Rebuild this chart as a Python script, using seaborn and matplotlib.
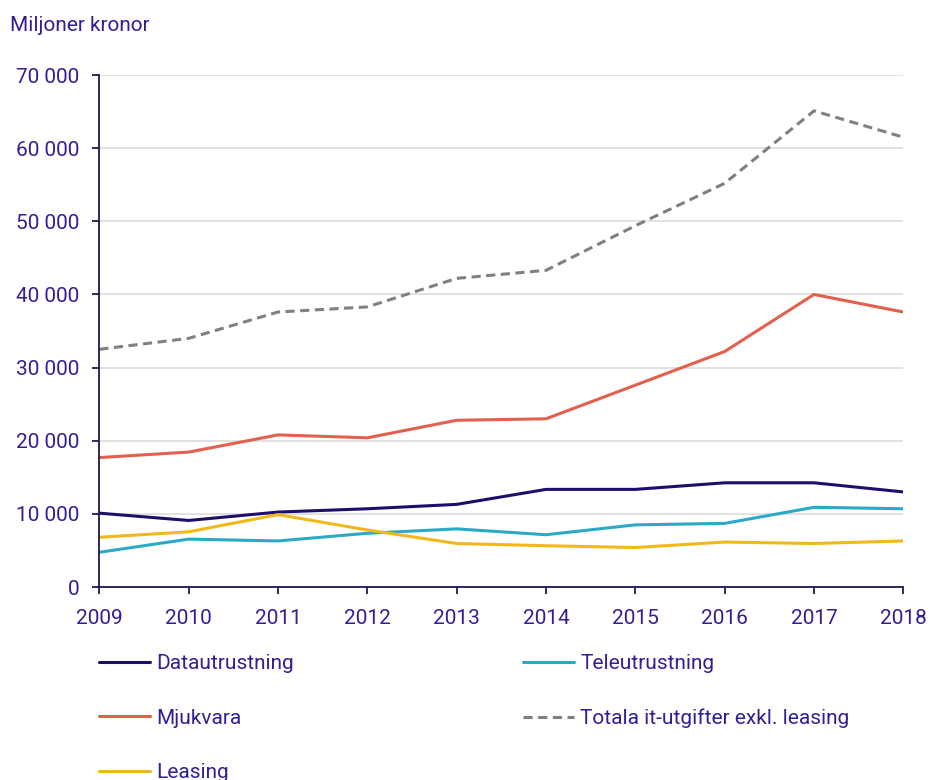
import matplotlib
matplotlib.use("Agg")
import matplotlib.pyplot as plt
import matplotlib.ticker as mticker
from matplotlib.lines import Line2D
import pandas as pd
import seaborn as sns

years = [2009, 2010, 2011, 2012, 2013, 2014, 2015, 2016, 2017, 2018]
datautrustning = [10100, 9100, 10250, 10700, 11300, 13350, 13350, 14250, 14250, 13000]
teleutrustning = [4750, 6550, 6300, 7350, 7950, 7150, 8500, 8700, 10900, 10700]
mjukvara = [17700, 18450, 20800, 20400, 22800, 23000, 27600, 32200, 40000, 37600]
totala = [32500, 34000, 37600, 38300, 42200, 43300, 49400, 55200, 65100, 61500]
leasing = [6800, 7550, 9900, 7800, 5950, 5650, 5400, 6150, 5950, 6300]

labels = ["Datautrustning", "Teleutrustning", "Mjukvara",
          "Totala it-utgifter exkl. leasing", "Leasing"]
series = [datautrustning, teleutrustning, mjukvara, totala, leasing]
colors = ["#1c0f6b", "#2aaac8", "#e2604c", "#808080", "#f0b81a"]
dashes = ["-", "-", "-", (0, (3.0, 1.8)), "-"]

text_col = "#2e2196"
axis_col = "#1c1852"

df = pd.DataFrame({"År": years * len(series),
                   "Värde": [v for s in series for v in s],
                   "Serie": [lab for lab, s in zip(labels, series) for _ in s]})

sns.set_theme(style="white")
plt.rcParams["font.family"] = ["Roboto", "DejaVu Sans"]

fig = plt.figure(figsize=(9.31, 7.8), dpi=100)
ax = fig.add_axes([0.1067, 0.2474, 0.8636, 0.6564])

for lab, col, ls in zip(labels, colors, dashes):
    sub = df[df["Serie"] == lab]
    sns.lineplot(data=sub, x="År", y="Värde", ax=ax, color=col,
                 linewidth=2.2, linestyle=ls, legend=False)

ax.set_xlim(2009, 2018)
ax.set_ylim(0, 70000)
ax.set_xticks(years)
ax.set_yticks(range(0, 70001, 10000))
ax.yaxis.set_major_formatter(mticker.FuncFormatter(
    lambda v, p: f"{int(v):,}".replace(",", " ")))
ax.set_xlabel("")
ax.set_ylabel("")
ax.grid(axis="y", color="#d9d9d9", linewidth=1.1)
ax.grid(axis="x", visible=False)
ax.set_axisbelow(True)

for s in ["top", "right"]:
    ax.spines[s].set_visible(False)
for s in ["left", "bottom"]:
    ax.spines[s].set_color(axis_col)
    ax.spines[s].set_linewidth(1.3)

ax.tick_params(axis="both", colors=axis_col, labelcolor=text_col,
               labelsize=15, length=5, width=1.3, direction="out",
               left=True, bottom=True)
ax.tick_params(axis="y", pad=9.5)
ax.tick_params(axis="x", pad=10.5)

fig.text(0.011, 0.967, "Miljoner kronor", color=text_col, fontsize=15,
         ha="left", va="center")

order = [0, 2, 4, 1, 3]
handles = [Line2D([0], [0], color=colors[i], linewidth=2.2, linestyle=dashes[i])
           for i in order]
leg = fig.legend(handles, [labels[i] for i in order], ncol=2,
                 loc="upper left", bbox_to_anchor=(0.0859, 0.185),
                 frameon=False, fontsize=15, handlelength=2.45,
                 handletextpad=0.3, labelspacing=1.69, columnspacing=11.0)
for t in leg.get_texts():
    t.set_color(text_col)

fig.savefig("out.png", dpi=100)
